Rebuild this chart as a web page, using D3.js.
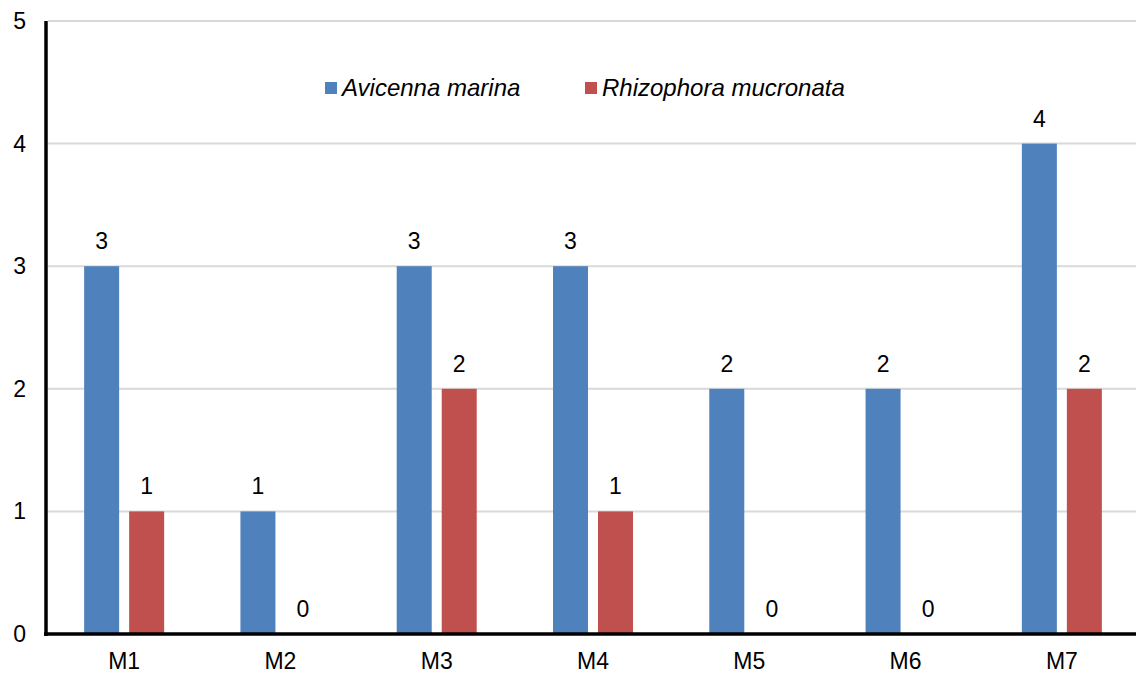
<!DOCTYPE html>
<html><head><meta charset="utf-8">
<script src="https://cdn.jsdelivr.net/npm/d3@7/dist/d3.min.js"></script>
<style>body{margin:0;background:#fff;}svg{display:block;font-family:"Liberation Sans",Arial,sans-serif;}</style>
</head><body>
<svg id="c" width="1136" height="674"></svg>
<script>
const categories = ["M1","M2","M3","M4","M5","M6","M7"];
const seriesNames = ["Avicenna marina","Rhizophora mucronata"];
const avicenna = [3,1,3,3,2,2,4];
const rhizophora = [1,0,2,1,0,0,2];
const yTicks = [0,1,2,3,4,5];
const colors = ["#4f81bd","#c0504d"];

const svg = d3.select("#c");
const x = d3.scaleBand().domain(categories).range([46,1140]);
const y = d3.scaleLinear().domain([0,5]).range([634,21]);

// gridlines
svg.append("g").selectAll("line").data(yTicks.filter(d=>d>0)).join("line")
  .attr("x1",48).attr("x2",1136).attr("y1",d=>y(d)).attr("y2",d=>y(d))
  .attr("stroke","#d9d9d9").attr("stroke-width",2);

const series = [avicenna, rhizophora];
const barW = 35, gap = 10;
series.forEach((vals,si)=>{
  const g = svg.append("g");
  const xpos = d => x(d) + x.bandwidth()/2 + (si===0 ? -gap/2-barW : gap/2);
  g.selectAll("rect").data(categories).join("rect")
    .attr("x", xpos).attr("width", barW)
    .attr("y", (d,i)=>y(vals[i])).attr("height",(d,i)=>y(0)-y(vals[i]))
    .attr("fill", colors[si]);
  g.selectAll("text").data(categories).join("text")
    .attr("x", d=>xpos(d)+barW/2).attr("y",(d,i)=>y(vals[i])-17)
    .attr("text-anchor","middle").attr("font-size",23).attr("fill","#000")
    .text((d,i)=>vals[i]);
});

// y tick labels
svg.append("g").selectAll("text").data(yTicks).join("text")
  .attr("x",26).attr("y",d=>y(d)+8).attr("text-anchor","end")
  .attr("font-size",23).text(d=>d);

// x labels
svg.append("g").selectAll("text").data(categories).join("text")
  .attr("x",d=>x(d)+x.bandwidth()/2).attr("y",669).attr("text-anchor","middle")
  .attr("font-size",23).text(d=>d);

// axes
svg.append("line").attr("x1",46).attr("x2",46).attr("y1",21).attr("y2",636)
  .attr("stroke","#000").attr("stroke-width",3.5);
svg.append("line").attr("x1",44).attr("x2",1136).attr("y1",634).attr("y2",634)
  .attr("stroke","#000").attr("stroke-width",3.5);

// legend
const legX = [325,585];
seriesNames.forEach((n,i)=>{
  svg.append("rect").attr("x",legX[i]).attr("y",82).attr("width",12).attr("height",12).attr("fill",colors[i]);
  svg.append("text").attr("x",legX[i]+17).attr("y",96).attr("font-size",24)
    .attr("font-style","italic").text(n);
});
</script>
</body></html>
